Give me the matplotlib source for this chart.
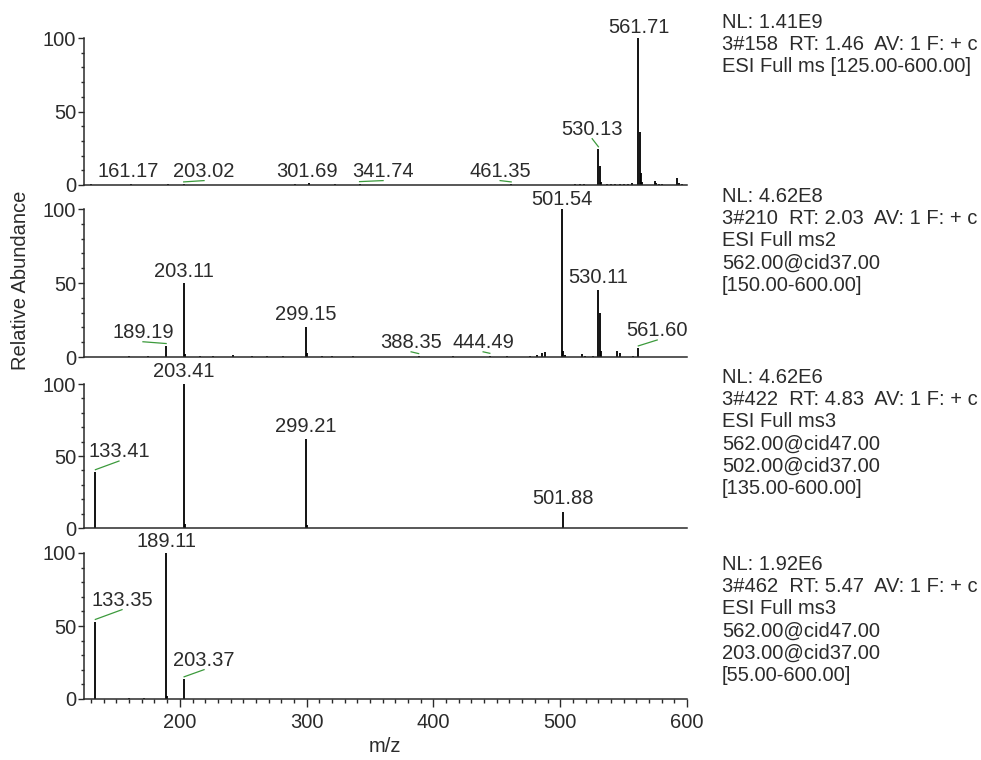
import matplotlib
matplotlib.use("Agg")
import matplotlib.pyplot as plt
from matplotlib.ticker import MultipleLocator, FixedLocator

plt.rcParams['font.family'] = ['Liberation Sans', 'DejaVu Sans']

# Full ms scan
p1_mz = [130.2, 161.17, 190.4, 203.02, 290.5, 301.69, 322.0, 341.74, 461.35,
         512.0, 515.3, 518.4, 530.13, 531.13, 532.1, 537.2, 540.3, 543.4,
         547.1, 550.2, 553.3, 556.4, 561.71, 562.71, 563.7, 564.7, 574.5,
         575.5, 577.6, 580.4, 592.5, 593.5, 596.2]
p1_int = [0.4, 0.8, 0.5, 0.6, 0.4, 1.2, 0.5, 0.8, 0.6,
          0.8, 0.8, 0.9, 24.5, 13.0, 2.0, 1.0, 0.8, 1.0,
          0.8, 1.0, 0.8, 1.2, 100.0, 36.0, 8.0, 2.0, 3.0,
          1.5, 0.8, 0.5, 4.5, 1.5, 0.8]
p1_labels = [161.17, 203.02, 301.69, 341.74, 461.35, 530.13, 561.71]
p1_label_x = [159.1, 219.1, 300.3, 360.3, 452.6, 525.2, 561.71]
p1_label_y = [5.5, 5.5, 5.5, 5.5, 5.5, 34.0, 103.4]

# ms2 of 562
p2_mz = [160.1, 175.0, 189.19, 203.11, 204.1, 216.0, 226.0, 242.0, 256.7,
         268.5, 281.7, 299.15, 300.1, 312.0, 319.8, 336.9, 388.35, 415.5,
         444.49, 457.9, 476.0, 481.5, 485.5, 488.0, 501.54, 502.5, 503.5,
         517.0, 519.5, 526.0, 530.11, 531.11, 532.1, 544.7, 547.3, 557.5,
         561.60]
p2_int = [1.0, 0.6, 7.6, 50.0, 2.0, 0.8, 1.0, 1.2, 0.8,
          0.8, 1.0, 20.0, 3.0, 0.8, 1.0, 0.8, 0.8, 0.8,
          1.0, 0.8, 1.0, 1.5, 2.5, 3.5, 100.0, 4.0, 1.5,
          2.0, 1.0, 1.0, 45.0, 30.0, 4.0, 4.0, 3.0, 1.0,
          6.0]
p2_labels = [189.19, 203.11, 299.15, 388.35, 444.49, 501.54, 530.11, 561.60]
p2_label_x = [170.9, 203.11, 299.15, 382.4, 439.2, 501.54, 530.11, 576.5]
p2_label_y = [12.8, 54.0, 25.0, 6.0, 6.0, 102.7, 50.0, 14.0]

# ms3 562 -> 502
p3_mz = [133.41, 203.41, 204.4, 299.21, 300.2, 501.88]
p3_int = [39.0, 100.0, 3.0, 62.0, 2.0, 11.0]
p3_labels = [133.41, 203.41, 299.21, 501.88]
p3_label_x = [152.0, 203.41, 299.21, 501.88]
p3_label_y = [49.0, 105.0, 66.7, 16.7]

# ms3 562 -> 203
p4_mz = [133.35, 160.0, 172.0, 189.11, 190.1, 203.37]
p4_int = [53.0, 0.5, 1.0, 100.0, 2.0, 13.7]
p4_labels = [133.35, 189.11, 203.37]
p4_label_x = [154.4, 189.11, 219.1]
p4_label_y = [63.7, 104.0, 22.6]

headers = [
    ["NL: 1.41E9", "3#158  RT: 1.46  AV: 1 F: + c", "ESI Full ms [125.00-600.00]"],
    ["NL: 4.62E8", "3#210  RT: 2.03  AV: 1 F: + c", "ESI Full ms2",
     "562.00@cid37.00", "[150.00-600.00]"],
    ["NL: 4.62E6", "3#422  RT: 4.83  AV: 1 F: + c", "ESI Full ms3",
     "562.00@cid47.00", "502.00@cid37.00", "[135.00-600.00]"],
    ["NL: 1.92E6", "3#462  RT: 5.47  AV: 1 F: + c", "ESI Full ms3",
     "562.00@cid47.00", "203.00@cid37.00", "[55.00-600.00]"],
]

panels = [
    (p1_mz, p1_int, p1_labels, p1_label_x, p1_label_y),
    (p2_mz, p2_int, p2_labels, p2_label_x, p2_label_y),
    (p3_mz, p3_int, p3_labels, p3_label_x, p3_label_y),
    (p4_mz, p4_int, p4_labels, p4_label_x, p4_label_y),
]

W, H = 981, 760
fig = plt.figure(figsize=(W / 100, H / 100), dpi=100)

# axes boxes in pixels: (y of 0%, y of 100%)
boxes = [(185, 38), (357, 209), (528, 384), (699, 553)]
header_y = [28, 202, 383, 570]
x_left, x_right = 84, 687
fs = 14.5
txt_col = "#2b2b2b"
ax_col = "#2a2a2a"

axes = []
for i, (mz, inten, labs, lx, ly) in enumerate(panels):
    y0, y1 = boxes[i]
    ax = fig.add_axes([x_left / W, 1 - y0 / H, (x_right - x_left) / W, (y0 - y1) / H])
    ax.set_xlim(124.4, 600)
    ax.set_ylim(0, 100)
    for s in ["top", "right"]:
        ax.spines[s].set_visible(False)
    for s in ["left", "bottom"]:
        ax.spines[s].set_color(ax_col)
        ax.spines[s].set_linewidth(1.1)
    ax.patch.set_alpha(0)

    ax.vlines(mz, 0, inten, color="black", lw=1.3, clip_on=False)

    for m, x, y in zip(labs, lx, ly):
        h = inten[mz.index(m)]
        ax.text(x, y, f"{m:.2f}", ha="center", va="baseline", fontsize=fs,
                color=txt_col, clip_on=False)
        if abs(x - m) > 3:
            ax.plot([m, x], [h + 1.5, y - 2.5], color="#3c9a3c", lw=0.9,
                    clip_on=False)

    ax.yaxis.set_major_locator(FixedLocator([0, 50, 100]))
    ax.yaxis.set_minor_locator(FixedLocator([10, 20, 30, 40, 60, 70, 80, 90]))
    ax.tick_params(axis="y", which="major", direction="out", length=4, width=1,
                   color=ax_col, labelsize=fs, labelcolor=txt_col, pad=1.5)
    ax.tick_params(axis="y", which="minor", direction="out", length=2.5, width=1,
                   color=ax_col)

    if i < 3:
        ax.tick_params(axis="x", which="both", bottom=False, labelbottom=False)
    else:
        ax.xaxis.set_major_locator(MultipleLocator(100))
        ax.xaxis.set_minor_locator(MultipleLocator(10))
        ax.tick_params(axis="x", which="major", direction="out", length=6, width=1,
                       color=ax_col, labelsize=fs, labelcolor=txt_col, pad=4)
        ax.tick_params(axis="x", which="minor", direction="out", length=3, width=1,
                       color=ax_col)

    for k, line in enumerate(headers[i]):
        fig.text(722 / W, 1 - (header_y[i] + 22.2 * k) / H, line, ha="left",
                 va="baseline", fontsize=fs, color=txt_col)
    axes.append(ax)

fig.text(21 / W, 1 - 280 / H, "Relative Abundance", rotation=90, ha="center",
         va="center", fontsize=fs, color=txt_col)
fig.text(385 / W, 1 - 747 / H, "m/z", ha="center", va="center", fontsize=fs,
         color=txt_col)

fig.savefig("out.png", dpi=100, facecolor="white")
